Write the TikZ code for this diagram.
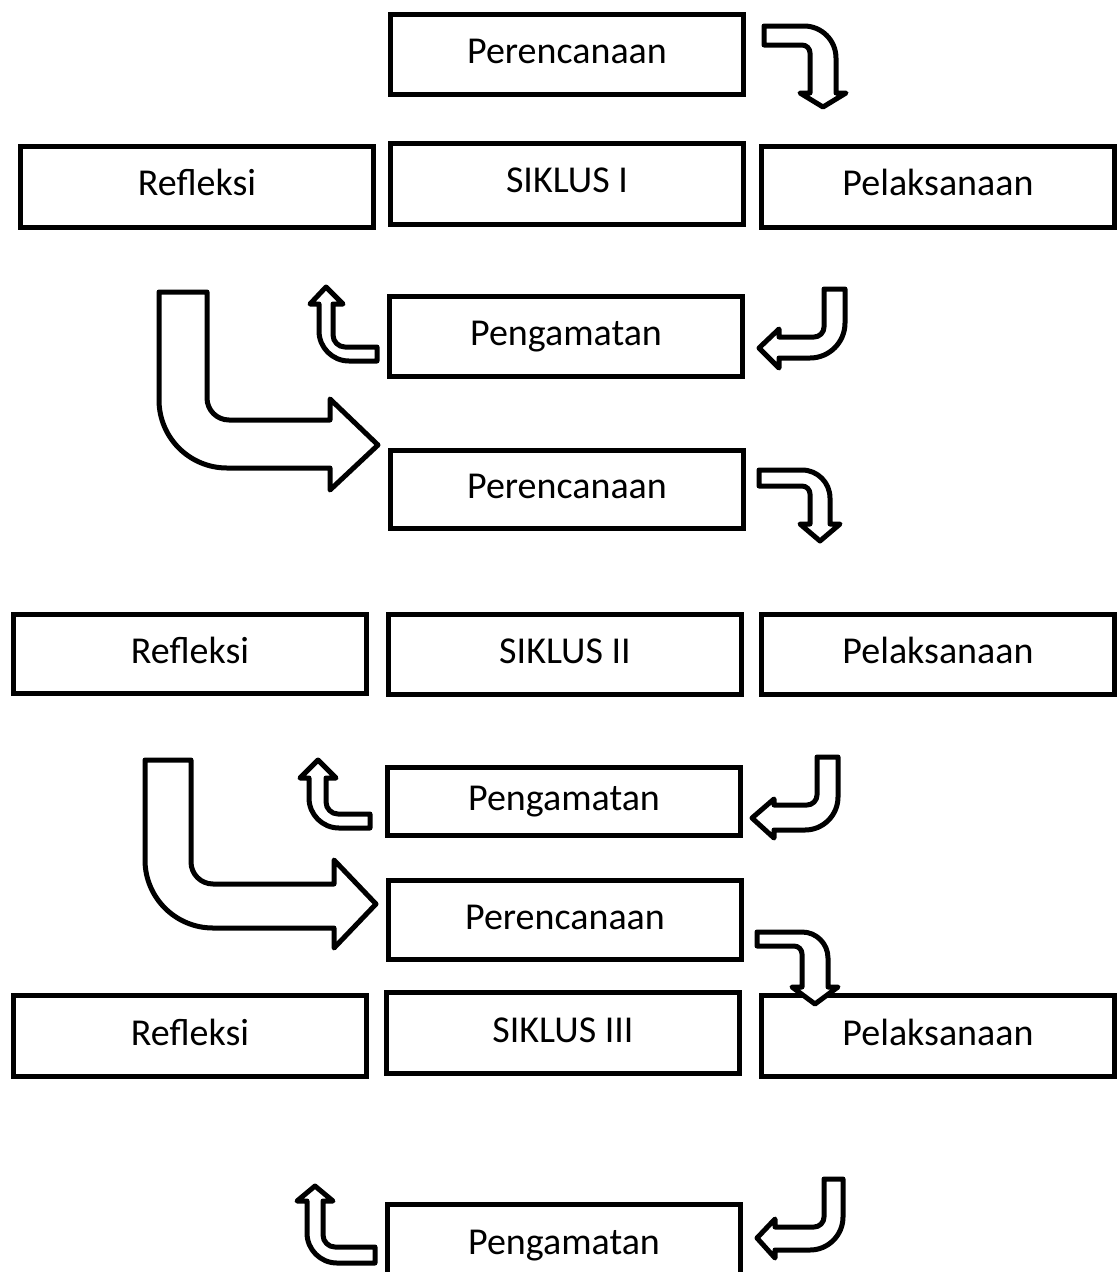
\documentclass[tikz,border=0pt]{standalone}
\usepackage{fontspec}
\setmainfont{Carlito}
\begin{document}
\begin{tikzpicture}[x=1pt,y=-1pt,
  box/.style={draw, line width=5pt, minimum width=353pt, minimum height=81pt, inner sep=0pt,
    text height=30pt, text depth=12pt, font=\fontsize{38}{46}\selectfont},
  barrow/.style={draw, line width=5pt, line join=round, fill=white}]
\useasboundingbox (0,0) rectangle (1117,1272);
% Cycle I
\node[box, minimum height=80pt] (p1) at (567,54.5) {Perencanaan};
\node[box] (r1) at (197,186.5) {Refleksi};
\node[box] (s1) at (567,183.5) {SIKLUS I};
\node[box] (l1) at (938,186.5) {Pelaksanaan};
\node[box, minimum height=80pt] (g1) at (566,336.5) {Pengamatan};
% Cycle II
\node[box, minimum height=78pt] (p2) at (567,489.5) {Perencanaan};
\node[box, minimum height=79pt] (r2) at (190,654) {Refleksi};
\node[box, minimum height=80pt] (s2) at (565,654.5) {SIKLUS II};
\node[box, minimum height=80pt] (l2) at (938,654.5) {Pelaksanaan};
\node[box, minimum height=68pt] (g2) at (564,801.5) {Pengamatan};
% Cycle III
\node[box, minimum height=79pt] (p3) at (565,920) {Perencanaan};
\node[box] (r3) at (190,1036) {Refleksi};
\node[box] (s3) at (563,1033) {SIKLUS III};
\node[box] (l3) at (938,1036) {Pelaksanaan};
\node[box] (g3) at (564,1245) {Pengamatan};
% right-then-down arrows
\draw[barrow] (764,26) -- (804,26) arc[start angle=90,end angle=0,radius=32pt] -- (836,93) -- (846,93) -- (823,107) -- (800,93) -- (810,93) -- (810,53) arc[start angle=0,end angle=90,radius=8pt] -- (764,45) -- cycle;
\draw[barrow] (759,470) -- (802,470) arc[start angle=90,end angle=0,radius=28pt] -- (830,524) -- (840,524) -- (820,541) -- (800,524) -- (810,524) -- (810,494) arc[start angle=0,end angle=90,radius=8pt] -- (759,486) -- cycle;
\draw[barrow] (757,932) -- (802,932) arc[start angle=90,end angle=0,radius=26pt] -- (828,987) -- (838,987) -- (815,1004) -- (792,987) -- (802,987) -- (802,954) arc[start angle=0,end angle=90,radius=8pt] -- (757,946) -- cycle;
% down-then-left arrows
\draw[barrow] (824,289) -- (845,289) -- (845,323) arc[start angle=0,end angle=-90,radius=35pt] -- (779,358) -- (779,368) -- (759,348) -- (779,329) -- (779,337) -- (814,337) arc[start angle=-90,end angle=0,radius=10pt] -- cycle;
\draw[barrow] (817,757) -- (838,757) -- (838,797) arc[start angle=0,end angle=-90,radius=33pt] -- (774,830) -- (774,838) -- (752,818) -- (774,799) -- (774,805) -- (807,805) arc[start angle=-90,end angle=0,radius=10pt] -- cycle;
\draw[barrow] (824,1179) -- (843,1179) -- (843,1217) arc[start angle=0,end angle=-90,radius=33pt] -- (775,1250) -- (775,1258) -- (757,1238) -- (775,1219) -- (775,1227) -- (814,1227) arc[start angle=-90,end angle=0,radius=10pt] -- cycle;
% left-then-up arrows
\draw[barrow] (377,347) -- (345,347) arc[start angle=-90,end angle=-180,radius=12pt] -- (333,304) -- (343,304) -- (326,287) -- (310,304) -- (319,304) -- (319,331) arc[start angle=180,end angle=270,radius=30pt] -- (377,361) -- cycle;
\draw[barrow] (370,814) -- (338,814) arc[start angle=-90,end angle=-180,radius=12pt] -- (326,778) -- (336,778) -- (318,760) -- (300,778) -- (309,778) -- (309,798) arc[start angle=180,end angle=270,radius=30pt] -- (370,828) -- cycle;
\draw[barrow] (375,1247) -- (335,1247) arc[start angle=-90,end angle=-180,radius=12pt] -- (323,1201) -- (333,1201) -- (315,1186) -- (297,1201) -- (307,1201) -- (307,1233) arc[start angle=180,end angle=270,radius=30pt] -- (375,1263) -- cycle;
% big down-then-right arrows
\draw[barrow] (159,292) -- (207,292) -- (207,398) arc[start angle=180,end angle=270,radius=22pt] -- (330,420) -- (330,399) -- (378,445) -- (330,490) -- (330,468) -- (227,468) arc[start angle=270,end angle=180,radius=68pt] -- cycle;
\draw[barrow] (145,760) -- (191,760) -- (191,862) arc[start angle=180,end angle=270,radius=22pt] -- (334,884) -- (334,860) -- (376,904) -- (334,948) -- (334,928) -- (213,928) arc[start angle=270,end angle=180,radius=68pt] -- cycle;
\end{tikzpicture}
\end{document}
